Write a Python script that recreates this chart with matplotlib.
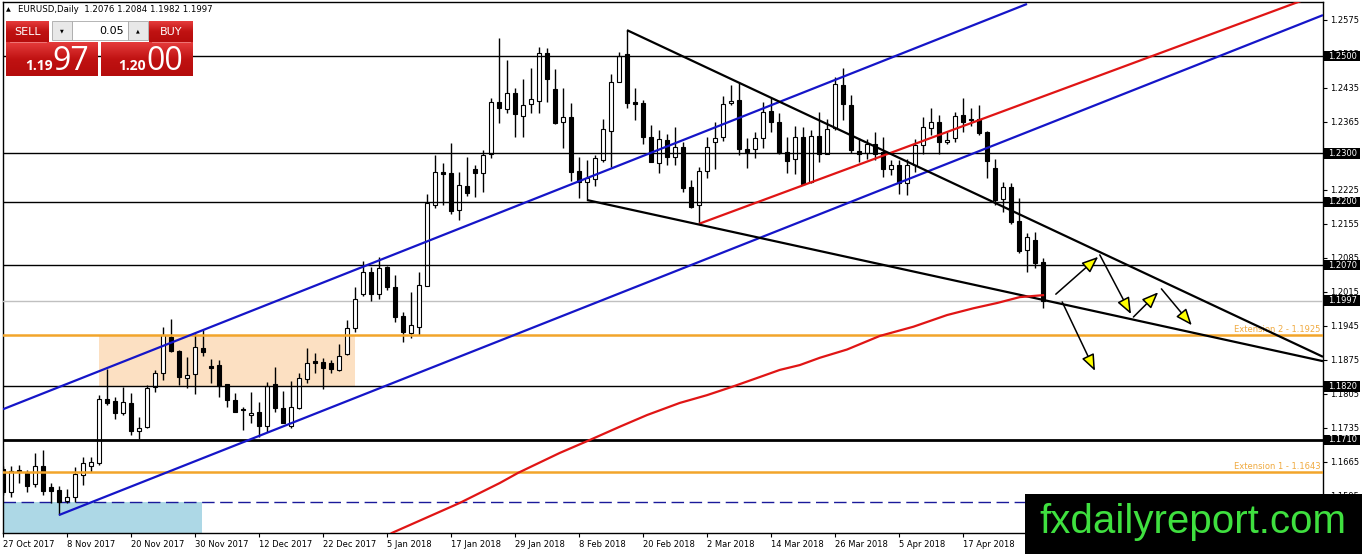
import matplotlib
matplotlib.use('Agg')
import matplotlib.pyplot as plt
import numpy as np
from matplotlib.patches import Rectangle
from matplotlib.colors import LinearSegmentedColormap

# Daily EURUSD candles, 27 Oct 2017 .. 1 May 2018 (bar index = trading day)
opens = [
    1.1650, 1.1602, 1.1648, 1.1642, 1.1619, 1.1656, 1.1613, 1.1607, 1.1584, 1.1592,
    1.1637, 1.1656, 1.1662, 1.1794, 1.1790, 1.1765, 1.1786, 1.1728, 1.1736, 1.1819,
    1.1848, 1.1922, 1.1893, 1.1837, 1.1846, 1.1899, 1.1862, 1.1864, 1.1825, 1.1792,
    1.1774, 1.1761, 1.1767, 1.1738, 1.1825, 1.1775, 1.1738, 1.1775, 1.1835, 1.1872,
    1.1870, 1.1868, 1.1854, 1.1887, 1.1940, 1.2010, 1.2056, 1.2010, 1.2066, 1.2025,
    1.1965, 1.1930, 1.1942, 1.2027, 1.2194, 1.2262, 1.2260, 1.2183, 1.2233, 1.2268,
    1.2260, 1.2299, 1.2406, 1.2391, 1.2424, 1.2377, 1.2402, 1.2408, 1.2507, 1.2433,
    1.2365, 1.2375, 1.2264, 1.2241, 1.2247, 1.2286, 1.2346, 1.2447, 1.2505, 1.2406,
    1.2404, 1.2334, 1.2280, 1.2328, 1.2293, 1.2313, 1.2231, 1.2194, 1.2264, 1.2323,
    1.2334, 1.2404, 1.2410, 1.2309, 1.2309, 1.2332, 1.2387, 1.2365, 1.2303, 1.2288,
    1.2334, 1.2241, 1.2336, 1.2299, 1.2352, 1.2441, 1.2400, 1.2305, 1.2301, 1.2319,
    1.2303, 1.2268, 1.2276, 1.2239, 1.2276, 1.2317, 1.2352, 1.2365, 1.2323, 1.2332,
    1.2379, 1.2371, 1.2371, 1.2344, 1.2270, 1.2206, 1.2231, 1.2161, 1.2101, 1.2122,
    1.2076]
highs = [
    1.1656, 1.1656, 1.1658, 1.1648, 1.1683, 1.1689, 1.1621, 1.1615, 1.1609, 1.1654,
    1.1675, 1.1675, 1.1802, 1.1856, 1.1798, 1.1819, 1.1806, 1.1757, 1.1823, 1.1854,
    1.1943, 1.1959, 1.1895, 1.1881, 1.1930, 1.1936, 1.1876, 1.1874, 1.1825, 1.1806,
    1.1778, 1.1809, 1.1788, 1.1829, 1.1860, 1.1811, 1.1831, 1.1848, 1.1899, 1.1889,
    1.1878, 1.1874, 1.1907, 1.1957, 1.2025, 1.2078, 1.2066, 1.2087, 1.2068, 1.2050,
    1.1973, 1.2014, 1.2056, 1.2216, 1.2297, 1.2280, 1.2321, 1.2262, 1.2293, 1.2276,
    1.2307, 1.2414, 1.2538, 1.2492, 1.2435, 1.2453, 1.2476, 1.2519, 1.2517, 1.2474,
    1.2435, 1.2404, 1.2293, 1.2286, 1.2297, 1.2371, 1.2464, 1.2509, 1.2554, 1.2435,
    1.2410, 1.2359, 1.2348, 1.2340, 1.2354, 1.2323, 1.2245, 1.2272, 1.2334, 1.2365,
    1.2418, 1.2441, 1.2447, 1.2332, 1.2344, 1.2406, 1.2414, 1.2383, 1.2334, 1.2356,
    1.2354, 1.2348, 1.2385, 1.2371, 1.2457, 1.2476, 1.2420, 1.2332, 1.2330, 1.2344,
    1.2334, 1.2286, 1.2286, 1.2288, 1.2330, 1.2375, 1.2394, 1.2379, 1.2344, 1.2385,
    1.2414, 1.2394, 1.2400, 1.2346, 1.2288, 1.2241, 1.2239, 1.2208, 1.2136, 1.2138,
    1.2084]
lows = [
    1.1596, 1.1592, 1.1621, 1.1603, 1.1613, 1.1596, 1.1580, 1.1555, 1.1580, 1.1582,
    1.1617, 1.1644, 1.1658, 1.1782, 1.1753, 1.1761, 1.1720, 1.1712, 1.1734, 1.1808,
    1.1833, 1.1891, 1.1823, 1.1817, 1.1804, 1.1883, 1.1827, 1.1798, 1.1778, 1.1767,
    1.1730, 1.1745, 1.1716, 1.1726, 1.1767, 1.1745, 1.1734, 1.1773, 1.1827, 1.1848,
    1.1815, 1.1848, 1.1852, 1.1885, 1.1932, 1.2006, 1.1996, 1.2000, 1.2019, 1.1953,
    1.1911, 1.1920, 1.1926, 1.2027, 1.2188, 1.2194, 1.2175, 1.2163, 1.2212, 1.2210,
    1.2220, 1.2291, 1.2363, 1.2383, 1.2334, 1.2334, 1.2383, 1.2383, 1.2406, 1.2361,
    1.2311, 1.2243, 1.2208, 1.2204, 1.2233, 1.2282, 1.2272, 1.2447, 1.2393, 1.2369,
    1.2319, 1.2282, 1.2260, 1.2276, 1.2276, 1.2220, 1.2188, 1.2155, 1.2249, 1.2268,
    1.2326, 1.2400, 1.2297, 1.2270, 1.2291, 1.2311, 1.2344, 1.2299, 1.2260, 1.2258,
    1.2237, 1.2239, 1.2282, 1.2299, 1.2348, 1.2369, 1.2301, 1.2282, 1.2288, 1.2286,
    1.2251, 1.2255, 1.2216, 1.2214, 1.2262, 1.2299, 1.2338, 1.2299, 1.2319, 1.2323,
    1.2344, 1.2356, 1.2338, 1.2249, 1.2194, 1.2179, 1.2155, 1.2095, 1.2056, 1.2064,
    1.1982]
closes = [
    1.1602, 1.1646, 1.1644, 1.1615, 1.1656, 1.1605, 1.1605, 1.1582, 1.1592, 1.1640,
    1.1662, 1.1664, 1.1794, 1.1786, 1.1765, 1.1788, 1.1728, 1.1734, 1.1817, 1.1848,
    1.1926, 1.1893, 1.1839, 1.1843, 1.1901, 1.1891, 1.1858, 1.1821, 1.1792, 1.1767,
    1.1772, 1.1765, 1.1738, 1.1821, 1.1775, 1.1745, 1.1778, 1.1837, 1.1868, 1.1868,
    1.1858, 1.1856, 1.1883, 1.1940, 1.2000, 1.2056, 1.2010, 1.2064, 1.2025, 1.1963,
    1.1932, 1.1947, 1.2029, 1.2198, 1.2262, 1.2258, 1.2181, 1.2235, 1.2218, 1.2260,
    1.2297, 1.2406, 1.2393, 1.2424, 1.2381, 1.2400, 1.2412, 1.2507, 1.2453, 1.2363,
    1.2375, 1.2262, 1.2241, 1.2249, 1.2290, 1.2350, 1.2447, 1.2501, 1.2404, 1.2402,
    1.2334, 1.2282, 1.2330, 1.2293, 1.2313, 1.2229, 1.2190, 1.2264, 1.2313, 1.2332,
    1.2402, 1.2408, 1.2309, 1.2303, 1.2332, 1.2385, 1.2365, 1.2301, 1.2284, 1.2334,
    1.2237, 1.2336, 1.2299, 1.2350, 1.2443, 1.2402, 1.2307, 1.2299, 1.2319, 1.2299,
    1.2268, 1.2276, 1.2239, 1.2276, 1.2317, 1.2354, 1.2365, 1.2323, 1.2328, 1.2377,
    1.2365, 1.2369, 1.2342, 1.2284, 1.2204, 1.2231, 1.2159, 1.2099, 1.2128, 1.2074,
    1.1997]

# slow moving average at these bars
ma_bars = [48.6, 57.1, 62.1, 64.4, 69.6, 73.4, 77.1, 80.5, 84.6, 88.0, 91.1, 94.2,
           97.1, 99.6, 102.1, 105.5, 109.6, 113.8, 118.0, 121.3, 124.3, 127.1, 130.0]
ma_vals = [1.1518, 1.1580, 1.1621, 1.1642, 1.1683, 1.1710, 1.1737, 1.1761, 1.1786,
           1.1802, 1.1819, 1.1837, 1.1854, 1.1864, 1.1879, 1.1896, 1.1924, 1.1943,
           1.1967, 1.1981, 1.1992, 1.2004, 1.2008]

x_tick_bars = [0, 8, 16, 24, 32, 40, 48, 56, 64, 72, 80, 88, 96, 104, 112, 120, 128]
x_tick_labels = ['27 Oct 2017', '8 Nov 2017', '20 Nov 2017', '30 Nov 2017', '12 Dec 2017',
                 '22 Dec 2017', '5 Jan 2018', '17 Jan 2018', '29 Jan 2018', '8 Feb 2018',
                 '20 Feb 2018', '2 Mar 2018', '14 Mar 2018', '26 Mar 2018', '5 Apr 2018',
                 '17 Apr 2018', '27 Apr 2018']
y_ticks = [1.2575, 1.2505, 1.2435, 1.2365, 1.2295, 1.2225, 1.2155, 1.2085, 1.2015,
           1.1945, 1.1875, 1.1805, 1.1735, 1.1665, 1.1595]

sr_levels = [1.2500, 1.2300, 1.2200, 1.2070, 1.1820]
strong_level = 1.1710
bid_price = 1.1997
ext_levels = [1.1925, 1.1643]
ext_labels = ['Extension 2 - 1.1925', 'Extension 1 - 1.1643']
dashed_level = 1.1582
boxed_levels = [1.2500, 1.2300, 1.2200, 1.2070, 1.1997, 1.1820, 1.1710]

# trend lines: (bar, price) -> (bar, price)
trend_lines = [
    ((0, 1.1773), (128, 1.2608), '#1515c8'),     # upper blue channel
    ((7, 1.1555), (165, 1.2585), '#1515c8'),     # lower blue channel
    ((87, 1.2155), (165, 1.2631), '#e01515'),    # red channel
    ((78, 1.2554), (165, 1.1881), 'black'),      # falling resistance
    ((73, 1.2204), (165, 1.1872), 'black'),      # falling support
]
# scenario arrows
arrows = [
    ((131.6, 1.2010), (136.9, 1.2087)),
    ((137.1, 1.2091), (141.0, 1.1969)),
    ((141.3, 1.1963), (144.4, 1.2014)),
    ((144.8, 1.2021), (148.6, 1.1946)),
    ((132.4, 1.1994), (136.5, 1.1852)),
]
# zones: (bar0, bar1, price0, price1)
consolidation_zone = (12, 44, 1.1821, 1.1924)
target_zone = (-1, 24.9, 1.1500, 1.1582)

plt.rcParams['font.family'] = ['DejaVu Sans']

W, H = 1362, 554
fig = plt.figure(figsize=(W / 100, H / 100), dpi=100)
fig.patch.set_facecolor('white')
ax = fig.add_axes([3 / W, 21 / H, 1320 / W, 531 / H])
ax.set_xlim(0, 165)
ax.set_ylim(1.1518, 1.2612)

# zones behind the candles
b0, b1, p0, p1 = consolidation_zone
ax.add_patch(Rectangle((b0, p0), b1 - b0, p1 - p0, fc='#fce0c2', ec='none', zorder=1))
b0, b1, p0, p1 = target_zone
ax.add_patch(Rectangle((b0, p0), b1 - b0, p1 - p0, fc='#add8e6', ec='none', zorder=1))

# candles
o, h, l, c = (np.array(v) for v in (opens, highs, lows, closes))
bars = np.arange(len(c))
ax.vlines(bars, l, h, color='black', lw=1, zorder=4)
ax.bar(bars, np.maximum(np.abs(c - o), 0.00004), bottom=np.minimum(o, c), width=0.6,
       color=np.where(c >= o, 'white', 'black'), edgecolor='black', lw=0.8, zorder=5)

# horizontal levels
for lv in sr_levels:
    ax.axhline(lv, color='black', lw=1, zorder=6)
ax.axhline(strong_level, color='black', lw=2, zorder=6)
ax.axhline(bid_price, color='#c0c0c0', lw=1, zorder=3)
ax.axhline(dashed_level, color='#1a1a9a', lw=1, ls=(0, (9, 4)), zorder=2)
for lv, txt in zip(ext_levels, ext_labels):
    ax.axhline(lv, color='#f2a52b', lw=1.8, zorder=6)
    ax.text(164.7, lv + 0.0002, txt, ha='right', va='bottom', fontsize=6,
            color='#f0aa40', zorder=7)

for (xa, ya), (xb, yb), col in trend_lines:
    ax.plot([xa, xb], [ya, yb], color=col, lw=1.6, zorder=7, solid_capstyle='butt')

ax.plot(ma_bars, ma_vals, color='#e01515', lw=1.6, zorder=7, solid_joinstyle='round')

for start, end in arrows:
    ax.annotate('', xy=end, xytext=start, zorder=8,
                arrowprops=dict(arrowstyle='-|>,head_length=1.0,head_width=0.4',
                                fc='#ffff00', ec='black', lw=1.1, shrinkA=0, shrinkB=0))

# axes styling like a terminal chart
for sp in ax.spines.values():
    sp.set_color('black')
    sp.set_linewidth(1)
ax.yaxis.tick_right()
ax.set_yticks(y_ticks)
ax.set_yticklabels([f'{v:.4f}' for v in y_ticks])
ax.set_xticks(x_tick_bars)
ax.set_xticklabels(x_tick_labels)
for lbl in ax.get_xticklabels():
    lbl.set_horizontalalignment('left')
ax.tick_params(axis='both', direction='out', length=3, width=0.8, labelsize=6, pad=2)

# black price boxes on the right scale
ytr = ax.get_yaxis_transform()
for lv in boxed_levels:
    ax.add_patch(Rectangle((1.0007, lv - 0.00105), 0.0275, 0.0021, transform=ytr,
                           fc='black', ec='none', clip_on=False, zorder=9))
    ax.text(1.0035, lv, f'{lv:.4f}', transform=ytr, color='white', fontsize=6,
            va='center', ha='left', clip_on=False, zorder=10)

# overlay in pixel coordinates: header, trade panel, logo
ov = fig.add_axes([0, 0, 1, 1], zorder=10)
ov.set_axis_off()

red = LinearSegmentedColormap.from_list('btn', ['#e53b3b', '#c01212', '#b50c0c'])
grad = np.linspace(0, 1, 40).reshape(-1, 1)


def red_box(x0, y0, x1, y1):
    ov.imshow(grad, cmap=red, extent=(x0, x1, y1, y0), aspect='auto', zorder=2)


ov.text(6, 10, '\u25b2', fontsize=4.5, va='center', ha='left')
ov.text(18, 10, 'EURUSD,Daily  1.2076 1.2084 1.1982 1.1997', fontsize=6.2,
        va='center', ha='left')

red_box(6, 21, 49, 42)
red_box(149, 21, 193, 42)
red_box(6, 42, 98, 76)
red_box(101, 42, 193, 76)
ov.plot([10, 46], [42, 42], color='#f08080', lw=0.6, zorder=3)
ov.plot([152, 190], [42, 42], color='#f08080', lw=0.6, zorder=3)
ov.add_patch(Rectangle((52, 21), 20, 19, fc='#e8e8e8', ec='#a8a8a8', lw=0.6, zorder=2))
ov.add_patch(Rectangle((72, 21), 56, 19, fc='white', ec='#a8a8a8', lw=0.6, zorder=2))
ov.add_patch(Rectangle((128, 21), 20, 19, fc='#e8e8e8', ec='#a8a8a8', lw=0.6, zorder=2))
ov.text(62, 30.5, '\u25bc', fontsize=3.5, ha='center', va='center', zorder=4)
ov.text(138, 30.5, '\u25b2', fontsize=3.5, ha='center', va='center', zorder=4)
ov.text(124, 31, '0.05', fontsize=8, ha='right', va='center', zorder=4)
ov.text(27.5, 32, 'SELL', fontsize=8, color='white', ha='center', va='center', zorder=4)
ov.text(171, 32, 'BUY', fontsize=8, color='white', ha='center', va='center', zorder=4)
ov.text(25, 70, '1.19', fontsize=10, color='white', fontweight='bold', ha='left',
        va='baseline', zorder=4, family='Open Sans')
ov.text(52, 70, '97', fontsize=23, color='white', ha='left', va='baseline', zorder=4,
        family='Open Sans')
ov.text(118, 70, '1.20', fontsize=10, color='white', fontweight='bold', ha='left',
        va='baseline', zorder=4, family='Open Sans')
ov.text(146, 70, '00', fontsize=23, color='white', ha='left', va='baseline', zorder=4,
        family='Open Sans')

ov.add_patch(Rectangle((1025, 494), 337, 60, fc='black', ec='none', zorder=5))
ov.text(1193, 533, 'fxdailyreport.com', fontsize=29, color='#3fe03f', ha='center',
        va='baseline', family='Liberation Sans', zorder=6)

ov.set_xlim(0, W)
ov.set_ylim(H, 0)

fig.savefig('out.png', dpi=100)
